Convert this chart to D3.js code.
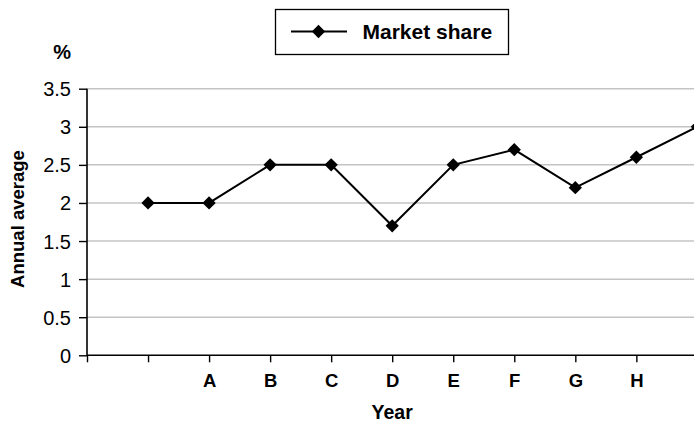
<!DOCTYPE html>
<html><head><meta charset="utf-8">
<script src="https://cdn.jsdelivr.net/npm/d3@7"></script>
<style>body{margin:0;background:#fff}svg{display:block}text{font-family:"Liberation Sans",Arial,Helvetica,sans-serif}</style>
</head><body>
<script>
const categories = ["", "", "A", "B", "C", "D", "E", "F", "G", "H", ""];
const marketShare = [null, 2.0, 2.0, 2.5, 2.5, 1.7, 2.5, 2.7, 2.2, 2.6, 3.0];
const yTicks = [0, 0.5, 1, 1.5, 2, 2.5, 3, 3.5];
const seriesName = "Market share";

const W = 694, H = 423;
const svg = d3.select("body").append("svg").attr("width", W).attr("height", H);

const x = d3.scaleLinear().domain([0, categories.length - 1]).range([87, 697.4]);
const y = d3.scaleLinear().domain([0, 3.5]).range([355.3, 88.7]);

// gridlines
svg.append("g").selectAll("line").data(yTicks.filter(d => d > 0)).join("line")
  .attr("x1", x(0)).attr("x2", W)
  .attr("y1", d => y(d)).attr("y2", d => y(d))
  .attr("stroke", "#c4c4c4").attr("stroke-width", 1.5);

// y axis
const yAxis = svg.append("g").attr("transform", `translate(${x(0)},0)`)
  .call(d3.axisLeft(y).tickValues(yTicks).tickSize(8).tickPadding(8).tickFormat(d3.format("")));
yAxis.select(".domain").attr("stroke", "#000").attr("stroke-width", 1.6).attr("d", `M0,${y(3.5)}V${y(0)}`);
yAxis.selectAll(".tick line").attr("stroke", "#000").attr("stroke-width", 1.4);
yAxis.selectAll(".tick text").attr("font-size", 20).attr("fill", "#000").attr("dy", "0.35em");

// x axis
const xAxis = svg.append("g").attr("transform", `translate(0,${y(0)})`)
  .call(d3.axisBottom(x).tickValues(d3.range(categories.length)).tickSize(7).tickPadding(12)
    .tickFormat(i => categories[i]));
xAxis.select(".domain").attr("stroke", "#000").attr("stroke-width", 1.6).attr("d", `M${x(0)},0H${W}`);
xAxis.selectAll(".tick line").attr("stroke", "#000").attr("stroke-width", 1.4);
xAxis.selectAll(".tick text").attr("font-size", 18.5).attr("font-weight", "bold").attr("fill", "#000");

// line
const pts = marketShare.map((v, i) => ({i, v})).filter(d => d.v != null);
svg.append("path").datum(pts)
  .attr("fill", "none").attr("stroke", "#000").attr("stroke-width", 2)
  .attr("d", d3.line().x(d => x(d.i)).y(d => y(d.v)));

const diamond = d3.symbol(d3.symbolSquare, 88);
svg.append("g").selectAll("path").data(pts).join("path")
  .attr("d", diamond)
  .attr("transform", d => `translate(${x(d.i)},${y(d.v)}) rotate(45)`)
  .attr("fill", "#000");

// axis titles
svg.append("text").attr("transform", `translate(23.5,${(150 + 288) / 2}) rotate(-90)`)
  .attr("text-anchor", "middle").attr("font-size", 18.5).attr("font-weight", "bold").text("Annual average");
svg.append("text").attr("x", x(5)).attr("y", 419).attr("text-anchor", "middle")
  .attr("font-size", 19.5).attr("font-weight", "bold").text("Year");
svg.append("text").attr("x", 71).attr("y", 58.5).attr("text-anchor", "end")
  .attr("font-size", 20).attr("font-weight", "bold").text("%");

// legend
const lg = svg.append("g");
lg.append("rect").attr("x", 275.5).attr("y", 9.5).attr("width", 233).attr("height", 45)
  .attr("fill", "#fff").attr("stroke", "#000").attr("stroke-width", 1.3);
lg.append("line").attr("x1", 291).attr("x2", 347).attr("y1", 31.5).attr("y2", 31.5)
  .attr("stroke", "#000").attr("stroke-width", 2);
lg.append("path").attr("d", diamond).attr("transform", "translate(318.5,31.5) rotate(45)").attr("fill", "#000");
lg.append("text").attr("x", 362.5).attr("y", 39.3).attr("font-size", 21).attr("font-weight", "bold").text(seriesName);
</script>
</body></html>
